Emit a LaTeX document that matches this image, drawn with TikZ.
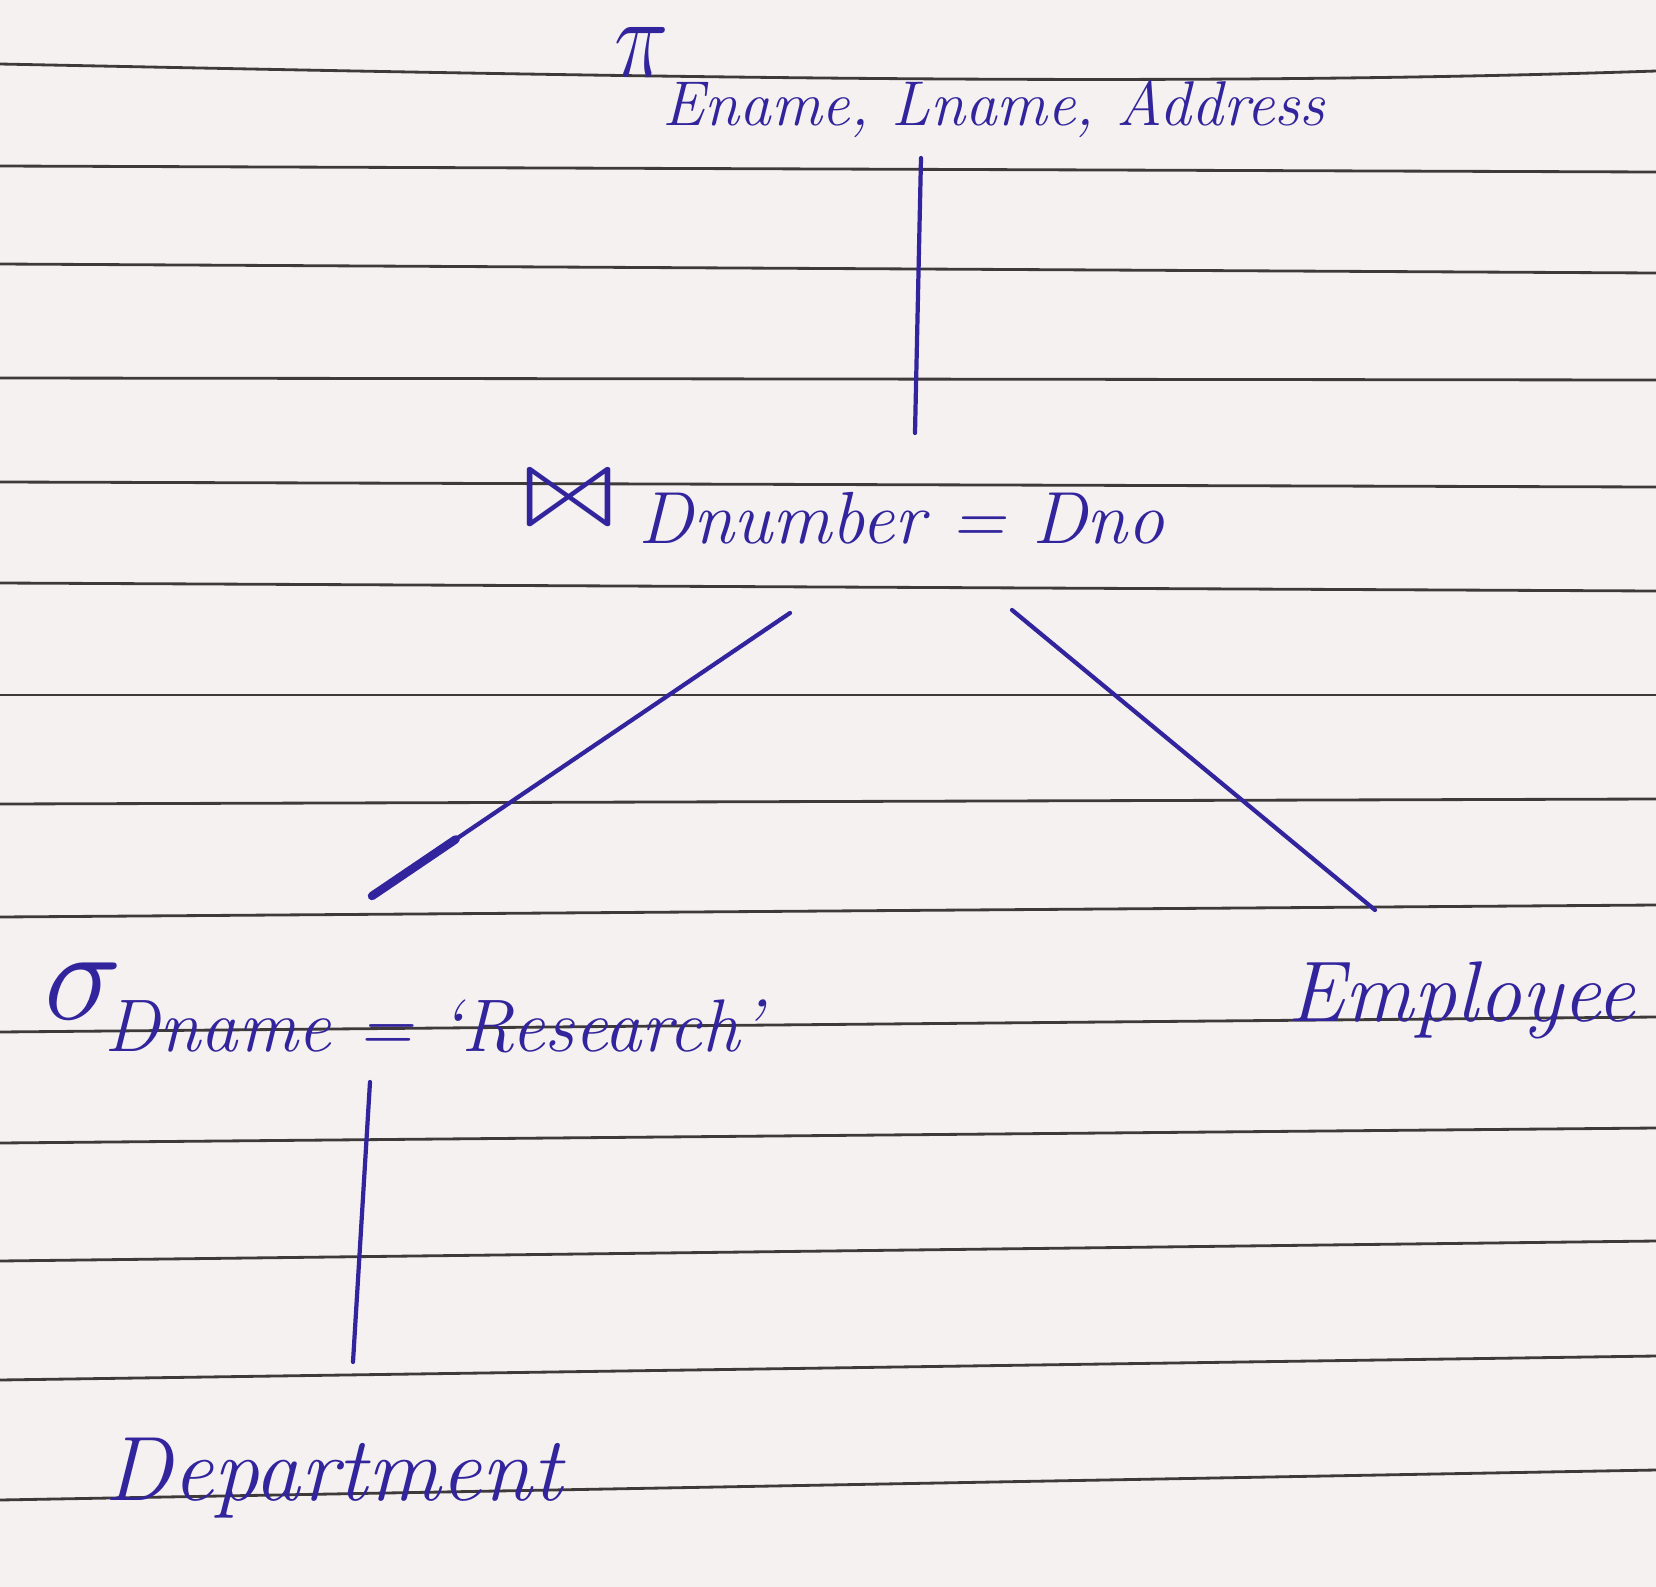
\documentclass[tikz,border=0pt]{standalone}
\usepackage{latexsym}
\usetikzlibrary{calc}
\definecolor{ink}{RGB}{50,36,156}
\definecolor{paper}{RGB}{245,241,240}
\definecolor{rulegray}{RGB}{62,58,58}
\tikzset{
  ruled/.style={draw=rulegray, line width=0.8pt},
  inkline/.style={draw=ink, line width=1.2pt, line cap=round},
  hand/.style={text=ink, inner sep=0pt, anchor=base west,
    font=\fontsize{#1}{#1}\selectfont\itshape},
  sym/.style={text=ink, inner sep=0pt, anchor=base west,
    font=\fontsize{#1}{#1}\selectfont}
}
\begin{document}
\begin{tikzpicture}[x=0.01cm, y=-0.01cm]
  % page
  \fill[paper] (0,0) rectangle (1656,1587);
  \useasboundingbox (0,0) rectangle (1656,1587);

  % ruled lines of the notebook page
  \draw[ruled] (0,64) .. controls (600,76) and (1150,88) .. (1656,71);
  \foreach \yl/\yr in {166/172, 264/273, 378/380, 482/487, 583/591,
                       695/695, 804/799, 917/905, 1032/1017, 1143/1128,
                       1261/1241, 1380/1356, 1500/1470}
    \draw[ruled] (0,\yl) -- (1656,\yr);

  % projection
  \node[sym=24] (pi) at (614,76) {\scalebox{1.05}[1.3]{$\pi$}};
  \node[hand=18] (projattr) at (662,125) {Ename, Lname, Address};

  % join
  \node[sym=30] (join) at (518,531) {\scalebox{1.6}[1.15]{$\Join$}};
  \node[hand=21] (joincond) at (638,543) {Dnumber = Dno};

  % selection
  \node[sym=24] (sigma) at (44,1019) {\scalebox{1.5}[1.5]{$\sigma$}};
  \node[hand=21.2] (selcond) at (104,1051) {Dname = `Research'};

  % relations
  \node[hand=24.5] (employee) at (1287,1021) {Employee};
  \node[hand=26] (department) at (104,1500) {Department};

  % tree edges
  \coordinate (projdown) at (921,158);
  \coordinate (joinup)   at (915,433);
  \coordinate (joinl)    at (790,613);
  \coordinate (joinr)    at (1012,610);
  \coordinate (selup)    at (372,896);
  \coordinate (empup)    at (1375,910);
  \coordinate (seldown)  at (370,1082);
  \coordinate (depup)    at (353,1362);

  \draw[inkline] (projdown) -- (joinup);
  \draw[inkline] (joinl) -- (selup);
  \draw[inkline, line width=2.4pt] (selup) -- ($(selup)!0.2!(joinl)$);
  \draw[inkline] (joinr) -- (empup);
  \draw[inkline] (seldown) -- (depup);
\end{tikzpicture}
\end{document}
